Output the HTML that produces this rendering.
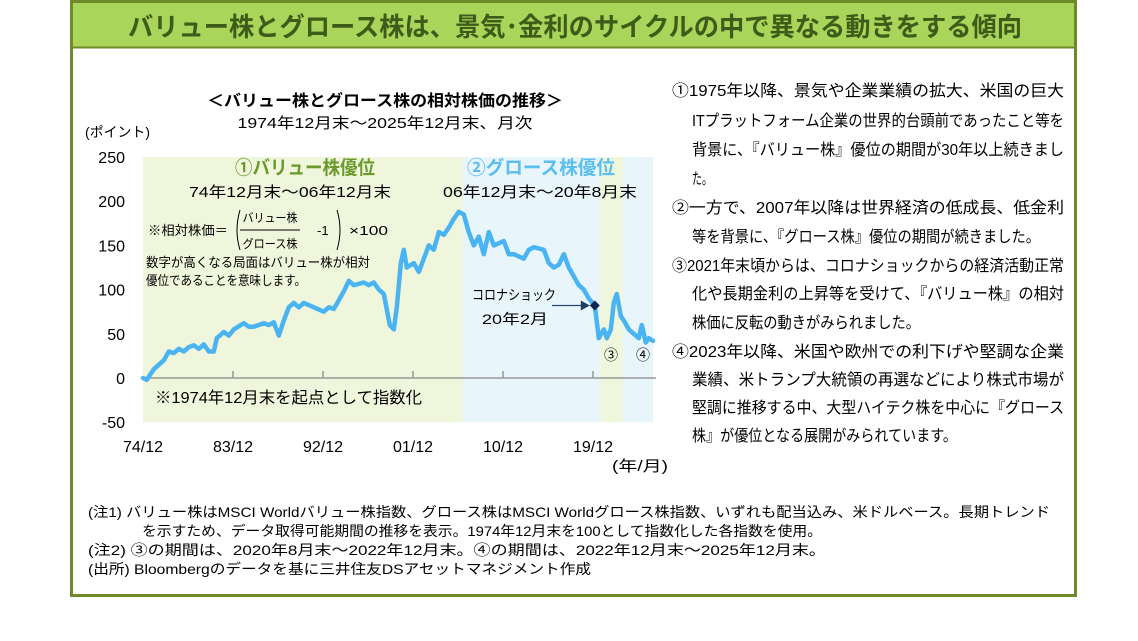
<!DOCTYPE html>
<html><head><meta charset="utf-8"><style>
html,body{margin:0;padding:0;background:#fff;}
svg{display:block;font-family:"Liberation Sans","Noto Sans CJK JP",sans-serif;}
</style></head><body>
<svg width="1138" height="641" viewBox="0 0 1138 641">
<rect x="71.5" y="1.5" width="1004" height="594" fill="#fff" stroke="#6f8a2a" stroke-width="3"/>
<rect x="73" y="3" width="1001" height="44" fill="#a9d65a"/>
<line x1="73" y1="47.5" x2="1074" y2="47.5" stroke="#6f8a2a" stroke-width="2"/>
<text x="575" y="36" text-anchor="middle" font-size="26" font-weight="bold" fill="#3d5c1a" textLength="894" lengthAdjust="spacingAndGlyphs">バリュー株とグロース株は、景気･金利のサイクルの中で異なる動きをする傾向</text>

<text x="385" y="106" text-anchor="middle" font-size="16" font-weight="bold" fill="#000" textLength="356" lengthAdjust="spacingAndGlyphs">＜バリュー株とグロース株の相対株価の推移＞</text>
<text x="385" y="128" text-anchor="middle" font-size="15" fill="#000" textLength="295" lengthAdjust="spacingAndGlyphs">1974年12月末～2025年12月末、月次</text>
<text x="85" y="137" font-size="14" fill="#000" textLength="65" lengthAdjust="spacingAndGlyphs">(ポイント)</text>

<g id="plot"></g>

<g font-size="16" fill="#000">
<text x="672" y="96" textLength="392" lengthAdjust="spacingAndGlyphs">①1975年以降、景気や企業業績の拡大、米国の巨大</text>
<text x="692" y="126" textLength="372" lengthAdjust="spacingAndGlyphs">ITプラットフォーム企業の世界的台頭前であったこと等を</text>
<text x="692" y="155" textLength="372" lengthAdjust="spacingAndGlyphs">背景に、『バリュー株』優位の期間が30年以上続きまし</text>
<text x="692" y="184" textLength="20" lengthAdjust="spacingAndGlyphs">た。</text>
<text x="672" y="213" textLength="392" lengthAdjust="spacingAndGlyphs">②一方で、2007年以降は世界経済の低成長、低金利</text>
<text x="692" y="242" textLength="348" lengthAdjust="spacingAndGlyphs">等を背景に、『グロース株』優位の期間が続きました。</text>
<text x="672" y="271" textLength="392" lengthAdjust="spacingAndGlyphs">③2021年末頃からは、コロナショックからの経済活動正常</text>
<text x="692" y="299" textLength="372" lengthAdjust="spacingAndGlyphs">化や長期金利の上昇等を受けて、『バリュー株』の相対</text>
<text x="692" y="328" textLength="228" lengthAdjust="spacingAndGlyphs">株価に反転の動きがみられました。</text>
<text x="672" y="357" textLength="392" lengthAdjust="spacingAndGlyphs">④2023年以降、米国や欧州での利下げや堅調な企業</text>
<text x="692" y="385" textLength="372" lengthAdjust="spacingAndGlyphs">業績、米トランプ大統領の再選などにより株式市場が</text>
<text x="692" y="413" textLength="372" lengthAdjust="spacingAndGlyphs">堅調に推移する中、大型ハイテク株を中心に『グロース</text>
<text x="692" y="441" textLength="265" lengthAdjust="spacingAndGlyphs">株』が優位となる展開がみられています。</text>
</g>

<g font-size="14" fill="#000">
<text x="88" y="517" textLength="962" lengthAdjust="spacingAndGlyphs">(注1) バリュー株はMSCI Worldバリュー株指数、グロース株はMSCI Worldグロース株指数、いずれも配当込み、米ドルベース。長期トレンド</text>
<text x="142" y="536" textLength="680" lengthAdjust="spacingAndGlyphs">を示すため、データ取得可能期間の推移を表示。1974年12月末を100として指数化した各指数を使用。</text>
<text x="88" y="555" textLength="738" lengthAdjust="spacingAndGlyphs">(注2) ③の期間は、2020年8月末～2022年12月末。④の期間は、2022年12月末～2025年12月末。</text>
<text x="88" y="574" textLength="503" lengthAdjust="spacingAndGlyphs">(出所) Bloombergのデータを基に三井住友DSアセットマネジメント作成</text>
</g>
</svg>
<script>
const periodStarts = [1974.92, 2006.92, 2020.67, 2022.92];
const periodEnds = [2006.92, 2020.67, 2022.92, 2025.92];
const periodKinds = ['value', 'growth', 'value', 'growth'];
const yTicks = [250, 200, 150, 100, 50, 0, -50];
const xTickLabels = ['74/12', '83/12', '92/12', '01/12', '10/12', '19/12'];
const xTickYears = [1974.92, 1983.92, 1992.92, 2001.92, 2010.92, 2019.92];
const years = [1974.92,1975.3,1976,1977,1977.5,1978,1978.5,1979,1979.5,1980,1980.5,1981,1981.5,1982,1982.3,1983,1983.5,1984,1985,1985.5,1986,1987,1987.5,1988,1988.5,1989,1989.5,1990,1990.5,1991,1992,1993,1993.5,1994,1995,1995.5,1996,1997,1997.5,1998,1998.5,1999,1999.6,2000,2000.3,2000.7,2001,2001.3,2002,2002.5,2003,2003.5,2004,2004.5,2005,2005.5,2006,2006.5,2007,2007.5,2008,2008.5,2009,2009.5,2010,2011,2011.5,2012,2013,2013.5,2014,2015,2015.5,2016,2016.5,2017,2017.5,2018,2018.5,2019,2019.5,2020.1,2020.5,2021,2021.3,2021.7,2022,2022.3,2022.7,2023,2023.5,2024,2024.5,2024.8,2025.2,2025.5,2025.92];
const values = [0,-2,10,20,30,28,33,30,35,37,33,38,30,30,45,52,48,55,62,58,58,62,60,63,48,65,80,85,80,85,80,75,80,78,98,110,105,108,105,108,100,95,60,55,80,130,145,125,130,120,135,150,145,165,162,170,180,188,185,165,150,160,140,165,150,155,140,140,135,145,148,145,130,125,128,140,125,115,105,100,90,82,45,55,45,55,85,95,70,65,55,50,45,60,40,45,42];
const covidYear = 2020.1, covidValue = 82;

const NS = 'http://www.w3.org/2000/svg';
const g = document.getElementById('plot');
const x0 = 143, xPerYear = 10.0, yZero = 378, yPerUnit = 0.884;
const xs = t => x0 + (t - 1974.92) * xPerYear;
const ys = v => yZero - v * yPerUnit;
function mk(tag, attrs, parent) { const e = document.createElementNS(NS, tag); for (const k in attrs) e.setAttribute(k, attrs[k]); (parent || g).appendChild(e); return e; }

periodStarts.forEach((s, i) => {
  const r = mk('rect', {x: xs(s), y: ys(250), width: xs(periodEnds[i]) - xs(s), height: ys(-50) - ys(250), fill: periodKinds[i] === 'value' ? '#eff6dc' : '#e8f5fb'});
  
  
});
yTicks.forEach(v => {
  const t = mk('text', {x: 125, y: ys(v) + 6, 'text-anchor': 'end', 'font-size': 16, fill: '#000'});
  t.textContent = v;
  
  
});
const ax = mk('line', {x1: xs(1974.92), x2: xs(2025.92) + 3, y1: ys(0), y2: ys(0), stroke: '#999', 'stroke-width': 1.5});


xTickYears.forEach((yr, i) => {
  if (i > 0) { const tk = mk('line', {x1: xs(yr), x2: xs(yr), y1: ys(0) - 7, y2: ys(0), stroke: '#999', 'stroke-width': 1.5});
    
     }
  const t = mk('text', {x: xs(yr), y: 452, 'text-anchor': 'middle', 'font-size': 16, fill: '#000'});
  t.textContent = xTickLabels[i];
  
  
});
function txt(s, a, name) { const t = mk('text', a); t.textContent = s;   return t; }
txt('(年/月)', {x: 612, y: 471, 'font-size': 15, textLength: 56, lengthAdjust: 'spacingAndGlyphs'}, 'x-axis-unit');
txt('①バリュー株優位', {x: 305, y: 174, 'text-anchor': 'middle', 'font-size': 19, 'font-weight': 'bold', fill: '#6a9a2a', textLength: 140, lengthAdjust: 'spacingAndGlyphs'}, 'value-period-label');
txt('②グロース株優位', {x: 541, y: 174, 'text-anchor': 'middle', 'font-size': 19, 'font-weight': 'bold', fill: '#5bbdf0', textLength: 148, lengthAdjust: 'spacingAndGlyphs'}, 'growth-period-label');
txt('74年12月末～06年12月末', {x: 290, y: 197, 'text-anchor': 'middle', 'font-size': 15, textLength: 202, lengthAdjust: 'spacingAndGlyphs'}, 'value-period-range');
txt('06年12月末～20年8月末', {x: 540, y: 197, 'text-anchor': 'middle', 'font-size': 15, textLength: 194, lengthAdjust: 'spacingAndGlyphs'}, 'growth-period-range');
txt('※相対株価＝', {x: 148, y: 235, 'font-size': 13, textLength: 80, lengthAdjust: 'spacingAndGlyphs'}, 'formula-label');
txt('バリュー株', {x: 270, y: 222, 'text-anchor': 'middle', 'font-size': 12, textLength: 55, lengthAdjust: 'spacingAndGlyphs'}, 'formula-numerator');
txt('グロース株', {x: 270, y: 248, 'text-anchor': 'middle', 'font-size': 12, textLength: 55, lengthAdjust: 'spacingAndGlyphs'}, 'formula-denominator');
mk('line', {x1: 240, x2: 300, y1: 230, y2: 230, stroke: '#000', 'stroke-width': 1});
mk('path', {d: 'M240,210 Q234,230 240,250', fill: 'none', stroke: '#000', 'stroke-width': 1});
mk('path', {d: 'M337,210 Q343,230 337,250', fill: 'none', stroke: '#000', 'stroke-width': 1});
txt('-1', {x: 317, y: 235, 'font-size': 13}, 'formula-minus-one');
txt('×100', {x: 349, y: 235, 'font-size': 13, textLength: 39, lengthAdjust: 'spacingAndGlyphs'}, 'formula-times');
txt('数字が高くなる局面はバリュー株が相対', {x: 146, y: 267, 'font-size': 13, textLength: 224, lengthAdjust: 'spacingAndGlyphs'}, 'formula-note-1');
txt('優位であることを意味します。', {x: 146, y: 285, 'font-size': 13, textLength: 160, lengthAdjust: 'spacingAndGlyphs'}, 'formula-note-2');
txt('※1974年12月末を起点として指数化', {x: 155, y: 403, 'font-size': 16, textLength: 267, lengthAdjust: 'spacingAndGlyphs'}, 'index-note');

const pts = years.map((t, i) => xs(t).toFixed(1) + ',' + ys(values[i]).toFixed(1)).join(' ');
const line = mk('polyline', {points: pts, fill: 'none', stroke: '#4ab4f2', 'stroke-width': 4.5, 'stroke-linejoin': 'round', 'stroke-linecap': 'round'});



txt('コロナショック', {x: 514, y: 300, 'text-anchor': 'middle', 'font-size': 14, textLength: 84, lengthAdjust: 'spacingAndGlyphs'}, 'covid-label');
txt('20年2月', {x: 515, y: 324, 'text-anchor': 'middle', 'font-size': 14, textLength: 66, lengthAdjust: 'spacingAndGlyphs'}, 'covid-date');
const cx = xs(covidYear), cy = ys(covidValue);
mk('line', {x1: 552, x2: cx - 12, y1: cy, y2: cy, stroke: '#2a4a6a', 'stroke-width': 1.2});
mk('path', {d: `M${cx-14},${cy-5} L${cx-5},${cy} L${cx-14},${cy+5} Z`, fill: '#1f3f5f'});
const dm = mk('path', {d: `M${cx},${cy-5} L${cx+5},${cy} L${cx},${cy+5} L${cx-5},${cy} Z`, fill: '#0b2550'});


txt('③', {x: 611, y: 360, 'text-anchor': 'middle', 'font-size': 14}, 'period-3-marker');
txt('④', {x: 643, y: 360, 'text-anchor': 'middle', 'font-size': 14}, 'period-4-marker');
</script>
</body></html>
